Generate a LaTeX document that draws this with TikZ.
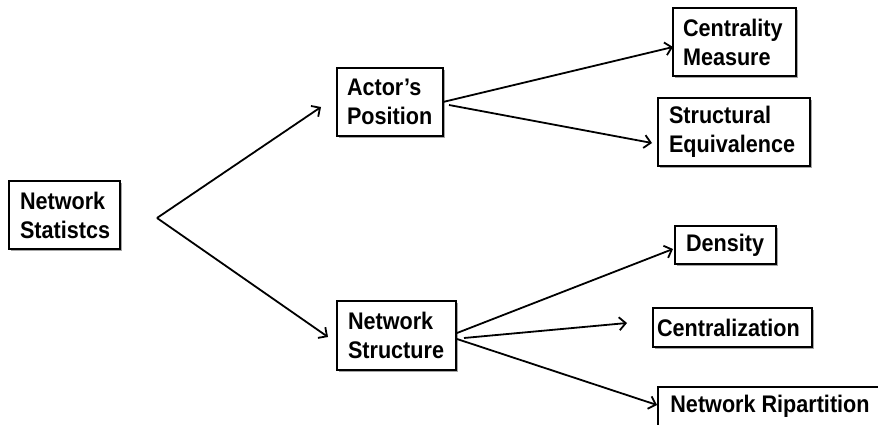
\documentclass[tikz,border=0pt]{standalone}
\usepackage{fontspec}
\setmainfont{Liberation Sans}[FakeStretch=0.9]
\usetikzlibrary{arrows.meta,shadows}
\begin{document}
\begin{tikzpicture}[x=1pt,y=-1pt,
  box/.style={draw=black, line width=1.4pt, fill=white, rectangle,
    inner xsep=0pt, inner ysep=0pt, align=left,
    font=\fontsize{24}{29}\selectfont\bfseries,
    drop shadow={shadow xshift=1.6pt, shadow yshift=-1.8pt, opacity=0.35, fill=black}},
  link/.style={line width=1.8pt, -{Straight Barb[length=6.5pt,width=13pt,line width=1.8pt]}}
]
\path[use as bounding box, clip] (0,0) rectangle (878,425);
\fill[white] (0,0) rectangle (878,425);

% two-line boxes (centre, size, text width)
\node[box, minimum width=111pt, minimum height=68pt, text width=89pt] (stats) at (64.5,215) {Network\\Statistcs};
\node[box, minimum width=106pt, minimum height=68pt, text width=86pt] (actor) at (390,102) {Actor’s\\Position};
\node[box, minimum width=119pt, minimum height=69pt, text width=97pt] (struct) at (396.5,335.5) {Network\\Structure};
\node[box, minimum width=123pt, minimum height=68pt, text width=103pt] (central) at (734.5,42) {Centrality\\Measure};
\node[box, minimum width=152pt, minimum height=68pt, text width=130pt] (equiv) at (734,132) {Structural\\Equivalence};
% one-line boxes
\node[box, minimum width=101pt, minimum height=38pt, text width=79pt] (density) at (725.5,245) {Density};
\node[box, minimum width=159pt, minimum height=39pt, text width=151pt] (centz) at (732.5,327.5) {Centralization};
\node[box, minimum width=224pt, minimum height=39pt] (ripart) at (770,406.5) {Network Ripartition};

% connector end points
\coordinate (fork) at (157,218);
\coordinate (toActor) at (321,107);
\coordinate (toStruct) at (328,337);
\coordinate (aOut1) at (443,102);
\coordinate (aOut2) at (449,105);
\coordinate (toCentral) at (673,47);
\coordinate (toEquiv) at (652,143);
\coordinate (sOut1) at (457,333);
\coordinate (sOut2) at (464,338);
\coordinate (sOut3) at (457,339);
\coordinate (toDensity) at (673,249);
\coordinate (toCentz) at (627,323);
\coordinate (toRipart) at (657,405);

% connectors
\draw[link] (fork) -- (toActor);
\draw[link] (fork) -- (toStruct);
\draw[link] (aOut1) -- (toCentral);
\draw[link] (aOut2) -- (toEquiv);
\draw[link] (sOut1) -- (toDensity);
\draw[link] (sOut2) -- (toCentz);
\draw[link] (sOut3) -- (toRipart);
\end{tikzpicture}
\end{document}
